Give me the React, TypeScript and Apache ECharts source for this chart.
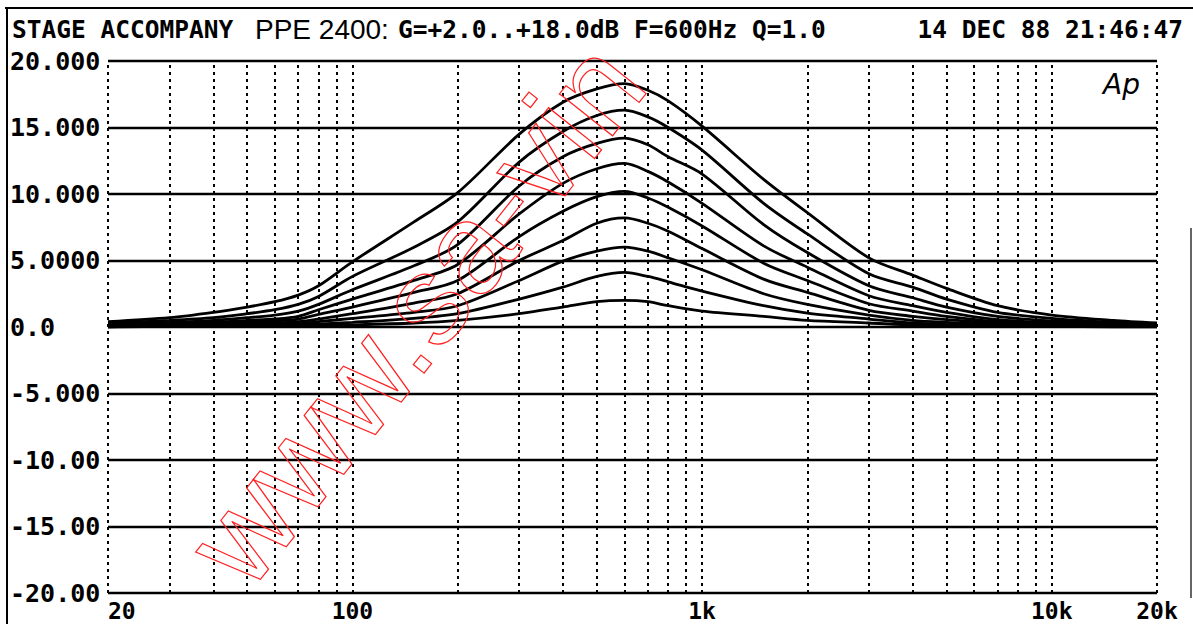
import React, { useEffect, useRef } from 'react';
import * as echarts from 'echarts';

const freqs = [20, 30, 40, 50, 60, 70, 80, 100, 150, 200, 300, 400, 500, 600, 700, 800, 1000, 1500, 2000, 3000, 4000, 5000, 7000, 10000, 15000, 20000];

// Level (dB) of each curve, G = +2 .. +18 dB
const gain18 = [0.4, 0.7, 1.1, 1.5, 1.9, 2.4, 3.1, 4.9, 7.9, 10.1, 14.5, 16.9, 17.9, 18.3, 17.8, 17.0, 15.1, 11.1, 8.6, 5.2, 3.9, 2.9, 1.6, 0.9, 0.5, 0.3];
const gain16 = [0.3, 0.5, 0.7, 1.0, 1.3, 1.7, 2.3, 3.8, 6.0, 7.9, 12.4, 14.7, 15.9, 16.3, 15.8, 15.0, 13.3, 9.3, 7.0, 4.0, 3.0, 2.1, 1.1, 0.65, 0.35, 0.22];
const gain14 = [0.2, 0.35, 0.5, 0.7, 0.9, 1.2, 1.7, 2.8, 4.6, 6.2, 10.6, 12.8, 13.8, 14.2, 13.7, 12.8, 11.5, 7.7, 5.6, 3.1, 2.2, 1.5, 0.8, 0.45, 0.25, 0.16];
const gain12 = [0.15, 0.25, 0.35, 0.5, 0.6, 0.8, 1.3, 2.1, 3.5, 4.7, 8.5, 10.8, 11.9, 12.3, 11.7, 10.9, 9.3, 6.1, 4.5, 2.35, 1.6, 1.1, 0.55, 0.32, 0.18, 0.12];
const gain10 = [0.1, 0.2, 0.25, 0.35, 0.45, 0.6, 0.95, 1.5, 2.6, 3.5, 6.8, 8.7, 9.8, 10.2, 9.7, 9.0, 7.6, 4.8, 3.5, 1.75, 1.2, 0.8, 0.4, 0.25, 0.14, 0.1];
const gain8 = [0.1, 0.15, 0.2, 0.25, 0.3, 0.4, 0.6, 1.0, 1.8, 2.5, 5.0, 6.5, 7.8, 8.2, 7.8, 7.2, 5.9, 3.6, 2.6, 1.25, 0.8, 0.55, 0.3, 0.18, 0.1, 0.07];
const gain6 = [0.05, 0.1, 0.15, 0.2, 0.2, 0.25, 0.4, 0.65, 1.1, 1.6, 3.5, 4.95, 5.7, 6.0, 5.7, 5.2, 4.3, 2.5, 1.7, 0.9, 0.5, 0.35, 0.2, 0.13, 0.07, 0.05];
const gain4 = [0.05, 0.05, 0.1, 0.1, 0.15, 0.15, 0.22, 0.35, 0.65, 1.0, 2.1, 3.0, 3.8, 4.1, 3.8, 3.4, 2.7, 1.6, 1.05, 0.6, 0.3, 0.2, 0.12, 0.08, 0.05, 0.03];
const gain2 = [0.0, 0.05, 0.05, 0.05, 0.1, 0.1, 0.1, 0.15, 0.3, 0.5, 1.0, 1.5, 1.9, 2.0, 1.9, 1.6, 1.2, 0.8, 0.5, 0.3, 0.15, 0.1, 0.06, 0.04, 0.02, 0.02];

const curves = [gain2, gain4, gain6, gain8, gain10, gain12, gain14, gain16, gain18];
const curveNames = ['+2 dB', '+4 dB', '+6 dB', '+8 dB', '+10 dB', '+12 dB', '+14 dB', '+16 dB', '+18 dB'];

// Axis ticks and their printed labels
const yTickValues = [20, 15, 10, 5, 0, -5, -10, -15, -20];
const yTickLabels = ['20.000', '15.000', '10.000', '5.0000', '0.0', '-5.000', '-10.00', '-15.00', '-20.00'];
const xTickValues = [20, 100, 1000, 10000, 20000];
const xTickLabels = ['20', '100', '1k', '10k', '20k'];
const xGridFreqs = [20, 30, 40, 50, 60, 70, 80, 90, 100, 200, 300, 400, 500, 600, 700, 800, 900, 1000, 2000, 3000, 4000, 5000, 6000, 7000, 8000, 9000, 10000, 20000];

const titleLeft = 'STAGE ACCOMPANY';
const titleModel = 'PPE 2400:';
const titleParams = 'G=+2.0..+18.0dB F=600Hz Q=1.0';
const titleDate = '14 DEC 88 21:46:47';
const logoText = 'Ap';
const watermarkText = 'www.sa-vin';

const MONO = '"DejaVu Sans Mono", "Liberation Mono", monospace';

function yLabel(v: number): string {
  const i = yTickValues.findIndex((t) => Math.abs(t - v) < 1e-6);
  return i >= 0 ? yTickLabels[i] : '';
}
function xLabel(v: number): string {
  let best = -1;
  let bd = Infinity;
  xTickValues.forEach((t, i) => {
    const d = Math.abs(Math.log10(t) - Math.log10(v));
    if (d < bd) { bd = d; best = i; }
  });
  return bd < 0.01 ? xTickLabels[best] : '';
}

export default function App() {
  const ref = useRef<HTMLDivElement>(null);
  useEffect(() => {
    if (!ref.current) return;
    const chart = echarts.init(ref.current, undefined, { renderer: 'svg' });
    const gridStyle = { color: '#000', type: [3, 4] as any, width: 2 };
    const series: any[] = curves.map((c, k) => ({
      name: curveNames[k],
      type: 'line',
      data: freqs.map((f, i) => [f, c[i]]),
      showSymbol: false,
      smooth: 0.3,
      silent: true,
      z: 3,
      lineStyle: { color: '#000', width: 2.8 },
    }));
    series.push({
      name: 'grid',
      type: 'line',
      data: [],
      silent: true,
      z: 1,
      markLine: {
        silent: true,
        symbol: ['none', 'none'],
        label: { show: false },
        lineStyle: gridStyle,
        data: xGridFreqs.map((f) => ({ xAxis: f })),
      },
    });
    chart.setOption({
      animation: false,
      backgroundColor: '#fff',
      grid: { left: 108, right: 36, top: 61, bottom: 31, containLabel: false },
      xAxis: {
        type: 'log',
        logBase: 10,
        min: 20,
        max: 20000,
        axisLine: { show: false },
        axisTick: { show: false },
        splitLine: { show: false },
        axisLabel: {
          formatter: (v: number) => xLabel(v),
          fontFamily: MONO,
          fontWeight: 'bold',
          fontSize: 23,
          lineHeight: 18,
          color: '#000',
          margin: 9,
          showMinLabel: true,
          showMaxLabel: true,
          alignMinLabel: 'left',
        },
      },
      yAxis: {
        type: 'value',
        min: -20,
        max: 20,
        interval: 5,
        axisLine: { show: false },
        axisTick: { show: false },
        splitLine: { show: true, lineStyle: { color: '#000', width: 2.4 } },
        axisLabel: {
          formatter: (v: number) => yLabel(v),
          align: 'left',
          margin: 98,
          padding: [8, 0, 0, 0],
          fontFamily: MONO,
          fontWeight: 'bold',
          fontSize: 25,
          color: '#000',
        },
      },
      series,
      graphic: [
        { type: 'line', shape: { x1: 5, y1: 8, x2: 1193, y2: 8 }, style: { stroke: '#000', lineWidth: 2 } },
        { type: 'line', shape: { x1: 7, y1: 8, x2: 7, y2: 624 }, style: { stroke: '#000', lineWidth: 2 } },
        { type: 'line', shape: { x1: 1191, y1: 228, x2: 1191, y2: 598 }, style: { stroke: '#333', lineWidth: 1.5 } },
        {
          type: 'text', x: 12, y: 29,
          style: { text: titleLeft, fontFamily: MONO, fontWeight: 'bold', fontSize: 24.5, fill: '#000', textAlign: 'left', textVerticalAlign: 'middle', align: 'left', verticalAlign: 'middle' },
        },
        {
          type: 'text', x: 255, y: 29,
          style: { text: titleModel, fontFamily: '"Liberation Sans", Arial, sans-serif', fontSize: 28, fill: '#000', textAlign: 'left', textVerticalAlign: 'middle', align: 'left', verticalAlign: 'middle' },
        },
        {
          type: 'text', x: 398, y: 29,
          style: { text: titleParams, fontFamily: MONO, fontWeight: 'bold', fontSize: 24.5, fill: '#000', textAlign: 'left', textVerticalAlign: 'middle', align: 'left', verticalAlign: 'middle' },
        },
        {
          type: 'text', x: 1183, y: 29,
          style: { text: titleDate, fontFamily: MONO, fontWeight: 'bold', fontSize: 24.5, fill: '#000', textAlign: 'right', textVerticalAlign: 'middle', align: 'right', verticalAlign: 'middle' },
        },
        {
          type: 'text', x: 1103, y: 84,
          style: { text: logoText, fontFamily: '"DejaVu Sans", sans-serif', fontStyle: 'italic', fontWeight: 'lighter', fontSize: 28, fill: '#000', textAlign: 'left', textVerticalAlign: 'middle', align: 'left', verticalAlign: 'middle' },
        },
        {
          type: 'text', x: 264, y: 606, rotation: 0.9, z: 100,
          style: { text: watermarkText, fontFamily: '"Liberation Sans", Arial, sans-serif', fontSize: 128, fill: 'rgba(0,0,0,0)', stroke: '#ff2020', lineWidth: 1.2, textAlign: 'left', textVerticalAlign: 'bottom', align: 'left', verticalAlign: 'bottom' },
        },
      ],
    });
    return () => chart.dispose();
  }, []);
  return <div ref={ref} style={{ position: 'fixed', left: 0, top: 0, width: 1193, height: 624 }} />;
}
